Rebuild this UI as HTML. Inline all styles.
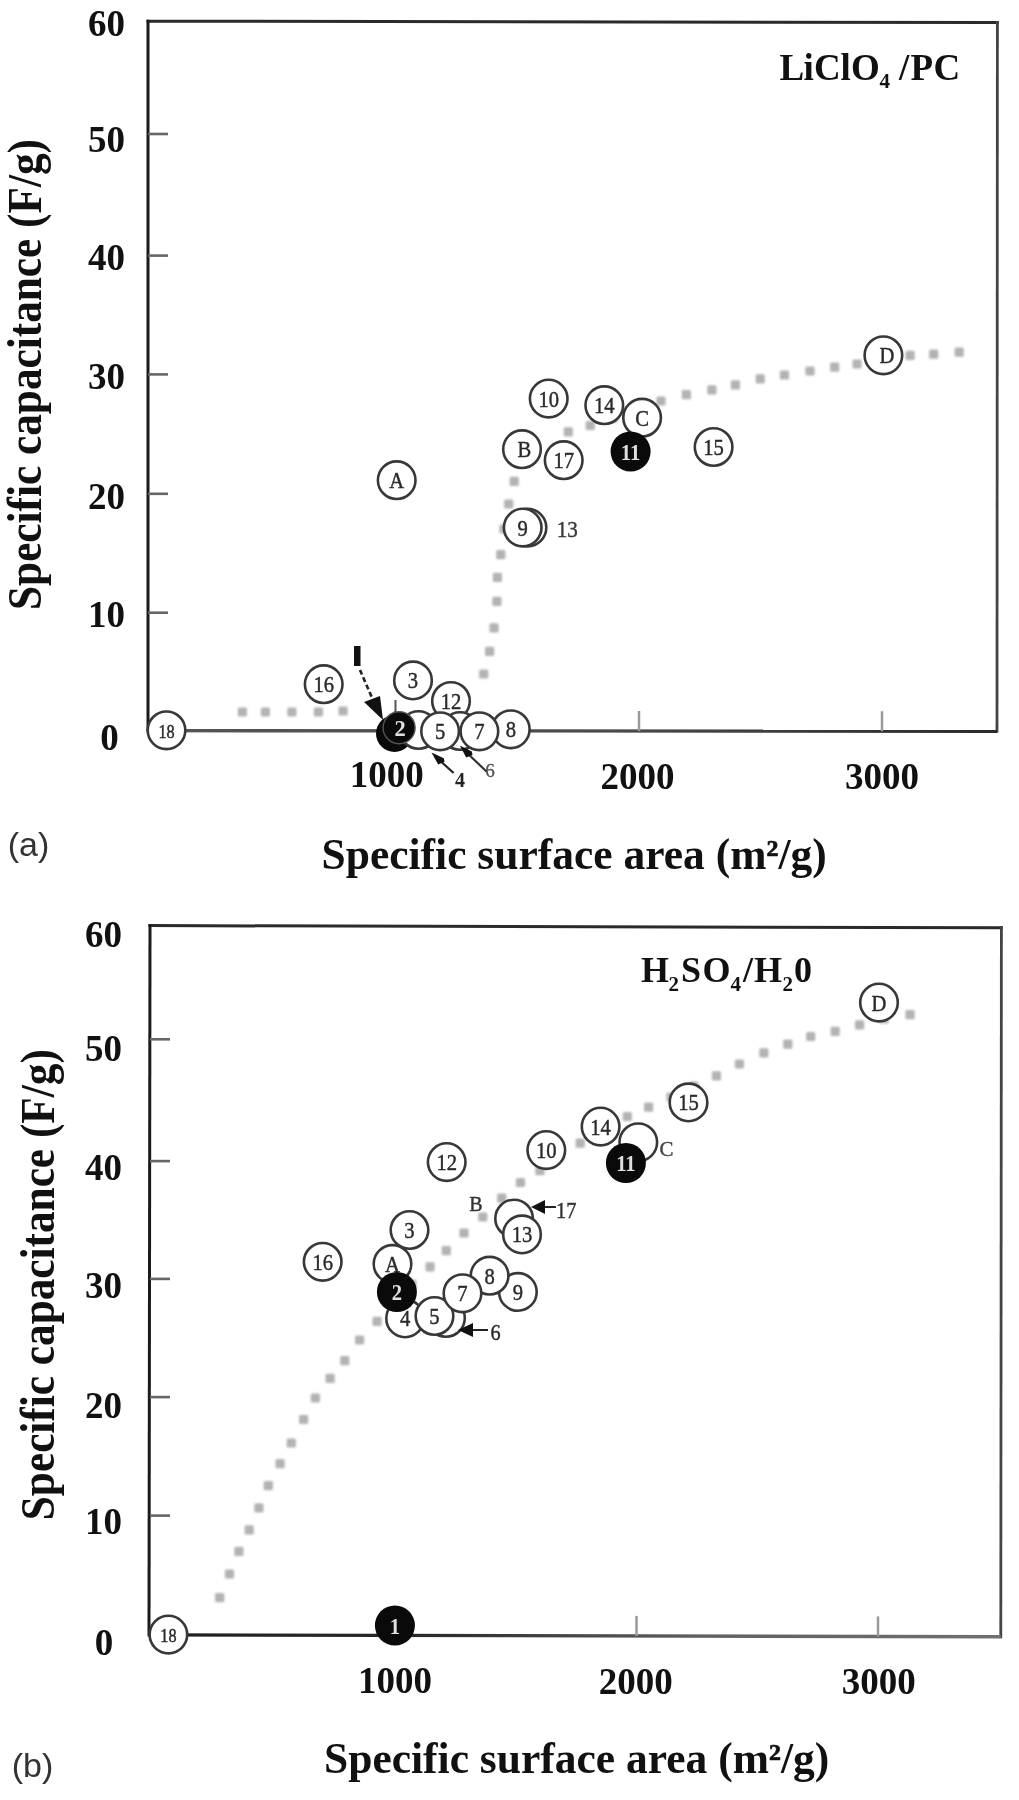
<!DOCTYPE html><html><head><meta charset="utf-8"><style>html,body{margin:0;padding:0;background:#fff;width:1019px;height:1800px;overflow:hidden}svg{display:block;filter:blur(0.6px)}</style></head><body>
<svg width="1019" height="1800" viewBox="0 0 1019 1800">
<rect width="1019" height="1800" fill="#fff"/>
<defs><filter id="dblur" x="-5%" y="-5%" width="110%" height="110%"><feGaussianBlur stdDeviation="1.2"/></filter><linearGradient id="ga" gradientUnits="userSpaceOnUse" x1="148" y1="0" x2="997" y2="0"><stop offset="0" stop-color="#555"/><stop offset="0.55" stop-color="#4a4a4a"/><stop offset="1" stop-color="#2a2a2a"/></linearGradient><linearGradient id="gb" gradientUnits="userSpaceOnUse" x1="149" y1="0" x2="1001" y2="0"><stop offset="0" stop-color="#1e1e1e"/><stop offset="0.32" stop-color="#2a2a2a"/><stop offset="0.65" stop-color="#606060"/><stop offset="1" stop-color="#707070"/></linearGradient></defs>
<line x1="146.5" y1="21.2" x2="998.8" y2="22.5" stroke="#2a2a2a" stroke-width="3"/>
<line x1="148" y1="19.7" x2="148" y2="732.1" stroke="#1a1a1a" stroke-width="3"/>
<line x1="997.4" y1="21.0" x2="997" y2="732.8" stroke="#444" stroke-width="2.8"/>
<line x1="148" y1="730.6" x2="997" y2="731.3" stroke="url(#ga)" stroke-width="3.4"/>
<line x1="148" y1="134" x2="168" y2="134" stroke="#666" stroke-width="2.6"/>
<line x1="148" y1="255.6" x2="168" y2="255.6" stroke="#666" stroke-width="2.6"/>
<line x1="148" y1="374.4" x2="168" y2="374.4" stroke="#666" stroke-width="2.6"/>
<line x1="148" y1="493.8" x2="168" y2="493.8" stroke="#666" stroke-width="2.6"/>
<line x1="148" y1="612.7" x2="168" y2="612.7" stroke="#666" stroke-width="2.6"/>
<line x1="394.8" y1="730.8" x2="394.8" y2="710.8" stroke="#9a9a9a" stroke-width="2.5"/>
<line x1="639" y1="731.0" x2="639" y2="711.0" stroke="#9a9a9a" stroke-width="2.5"/>
<line x1="882" y1="731.2" x2="882" y2="711.2" stroke="#9a9a9a" stroke-width="2.5"/>
<text x="125" y="35.5" font-size="37" text-anchor="end" font-family='"Liberation Serif", serif' font-weight="bold" fill="#111" >60</text>
<text x="125" y="152" font-size="37" text-anchor="end" font-family='"Liberation Serif", serif' font-weight="bold" fill="#111" >50</text>
<text x="125" y="270" font-size="37" text-anchor="end" font-family='"Liberation Serif", serif' font-weight="bold" fill="#111" >40</text>
<text x="125" y="389" font-size="37" text-anchor="end" font-family='"Liberation Serif", serif' font-weight="bold" fill="#111" >30</text>
<text x="125" y="509" font-size="37" text-anchor="end" font-family='"Liberation Serif", serif' font-weight="bold" fill="#111" >20</text>
<text x="125" y="627" font-size="37" text-anchor="end" font-family='"Liberation Serif", serif' font-weight="bold" fill="#111" >10</text>
<text x="109.5" y="749.5" font-size="37" text-anchor="middle" font-family='"Liberation Serif", serif' font-weight="bold" fill="#111" >0</text>
<text x="386.7" y="787" font-size="37" text-anchor="middle" font-family='"Liberation Serif", serif' font-weight="bold" fill="#111" >1000</text>
<text x="637.5" y="789" font-size="37" text-anchor="middle" font-family='"Liberation Serif", serif' font-weight="bold" fill="#111" >2000</text>
<text x="882" y="789" font-size="37" text-anchor="middle" font-family='"Liberation Serif", serif' font-weight="bold" fill="#111" >3000</text>
<text x="779.5" y="79.5" font-family='"Liberation Serif", serif' font-weight="bold" font-size="37" fill="#111">L</text>
<text x="803.5" y="79.5" font-family='"Liberation Serif", serif' font-weight="bold" font-size="37" fill="#111">i</text>
<text x="814" y="79.5" font-family='"Liberation Serif", serif' font-weight="bold" font-size="37" fill="#111">C</text>
<text x="840.5" y="79.5" font-family='"Liberation Serif", serif' font-weight="bold" font-size="37" fill="#111">l</text>
<text x="851" y="79.5" font-family='"Liberation Serif", serif' font-weight="bold" font-size="37" fill="#111">O</text>
<text x="879.5" y="88" font-family='"Liberation Serif", serif' font-weight="bold" font-size="21" fill="#111">4</text>
<text x="899" y="79.5" font-family='"Liberation Serif", serif' font-weight="bold" font-size="37" fill="#111">/</text>
<text x="910.5" y="79.5" font-family='"Liberation Serif", serif' font-weight="bold" font-size="37" fill="#111">P</text>
<text x="933.5" y="79.5" font-family='"Liberation Serif", serif' font-weight="bold" font-size="37" fill="#111">C</text>
<text x="7.8" y="855.5" font-family='"Liberation Sans", sans-serif' font-size="34" fill="#333">(a)</text>
<text x="321.5" y="869" font-family='"Liberation Serif", serif' font-weight="bold" font-size="43.5" fill="#111">Specific surface area (m<tspan font-size="23.9" dy="-13.5" font-weight="bold" stroke="#111" stroke-width="0.7">2</tspan><tspan dy="13.5">/g)</tspan></text>
<text transform="translate(40.5,610) rotate(-90) scale(1,1.12)" x="0" y="0" textLength="471" lengthAdjust="spacingAndGlyphs" font-family='"Liberation Serif", serif' font-weight="bold" font-size="43" fill="#111">Specific capacitance (F/g)</text>
<g filter="url(#dblur)">
<rect x="237.8" y="707.4" width="9.2" height="9.2" rx="1.5" fill="#b3b3b3"/>
<rect x="260.8" y="707.4" width="9.2" height="9.2" rx="1.5" fill="#b3b3b3"/>
<rect x="287.3" y="707.4" width="9.2" height="9.2" rx="1.5" fill="#b3b3b3"/>
<rect x="313.8" y="707.4" width="9.2" height="9.2" rx="1.5" fill="#b3b3b3"/>
<rect x="338.5" y="706.4" width="9.2" height="9.2" rx="1.5" fill="#b3b3b3"/>
<rect x="435.4" y="698.4" width="9.2" height="9.2" rx="1.5" fill="#b3b3b3"/>
<rect x="457.4" y="689.4" width="9.2" height="9.2" rx="1.5" fill="#b3b3b3"/>
<rect x="479.1" y="669.4" width="9.2" height="9.2" rx="1.5" fill="#b3b3b3"/>
<rect x="485.0" y="646.8" width="9.2" height="9.2" rx="1.5" fill="#b3b3b3"/>
<rect x="489.4" y="623.2" width="9.2" height="9.2" rx="1.5" fill="#b3b3b3"/>
<rect x="492.3" y="596.7" width="9.2" height="9.2" rx="1.5" fill="#b3b3b3"/>
<rect x="492.8" y="572.7" width="9.2" height="9.2" rx="1.5" fill="#b3b3b3"/>
<rect x="496.2" y="550.1" width="9.2" height="9.2" rx="1.5" fill="#b3b3b3"/>
<rect x="499.4" y="524.4" width="9.2" height="9.2" rx="1.5" fill="#b3b3b3"/>
<rect x="504.1" y="499.4" width="9.2" height="9.2" rx="1.5" fill="#b3b3b3"/>
<rect x="509.6" y="476.7" width="9.2" height="9.2" rx="1.5" fill="#b3b3b3"/>
<rect x="520.4" y="453.4" width="9.2" height="9.2" rx="1.5" fill="#b3b3b3"/>
<rect x="563.7" y="427.2" width="9.2" height="9.2" rx="1.5" fill="#b3b3b3"/>
<rect x="585.7" y="420.9" width="9.2" height="9.2" rx="1.5" fill="#b3b3b3"/>
<rect x="608.4" y="413.4" width="9.2" height="9.2" rx="1.5" fill="#b3b3b3"/>
<rect x="632.4" y="405.4" width="9.2" height="9.2" rx="1.5" fill="#b3b3b3"/>
<rect x="656.4" y="396.4" width="9.2" height="9.2" rx="1.5" fill="#b3b3b3"/>
<rect x="681.8" y="390.0" width="9.2" height="9.2" rx="1.5" fill="#b3b3b3"/>
<rect x="707.3" y="385.3" width="9.2" height="9.2" rx="1.5" fill="#b3b3b3"/>
<rect x="730.8" y="380.2" width="9.2" height="9.2" rx="1.5" fill="#b3b3b3"/>
<rect x="755.6" y="374.3" width="9.2" height="9.2" rx="1.5" fill="#b3b3b3"/>
<rect x="779.9" y="370.4" width="9.2" height="9.2" rx="1.5" fill="#b3b3b3"/>
<rect x="805.4" y="366.4" width="9.2" height="9.2" rx="1.5" fill="#b3b3b3"/>
<rect x="830.1" y="362.5" width="9.2" height="9.2" rx="1.5" fill="#b3b3b3"/>
<rect x="852.5" y="359.4" width="9.2" height="9.2" rx="1.5" fill="#b3b3b3"/>
<rect x="879.4" y="353.4" width="9.2" height="9.2" rx="1.5" fill="#b3b3b3"/>
<rect x="905.5" y="350.7" width="9.2" height="9.2" rx="1.5" fill="#b3b3b3"/>
<rect x="929.1" y="349.6" width="9.2" height="9.2" rx="1.5" fill="#b3b3b3"/>
<rect x="954.6" y="347.6" width="9.2" height="9.2" rx="1.5" fill="#b3b3b3"/>
</g>
<line x1="395.5" y1="700" x2="395.5" y2="714" stroke="#555" stroke-width="2"/>
<line x1="360" y1="670" x2="373" y2="700" stroke="#222" stroke-width="2.6" stroke-dasharray="5 3"/>
<polygon points="364,702 380,696 383,720" fill="#111"/>
<rect x="354" y="646" width="6.5" height="20" fill="#111"/>
<circle cx="166.5" cy="730.3" r="18.8" fill="#fff" stroke="#383838" stroke-width="2.6"/>
<text transform="translate(166.5,737.5) scale(0.9,1)" x="0" y="0" font-size="18" fill="#2a2a2a" stroke="#2a2a2a" stroke-width="0.45" text-anchor="middle" font-family='"Liberation Serif", serif'>18</text>
<circle cx="323.7" cy="684.2" r="18.8" fill="#fff" stroke="#383838" stroke-width="2.6"/>
<text transform="translate(323.7,692.2) scale(0.86,1)" x="0" y="0" font-size="24" fill="#2a2a2a" stroke="#2a2a2a" stroke-width="0.45" text-anchor="middle" font-family='"Liberation Serif", serif'>16</text>
<circle cx="413.0" cy="680.4" r="18.8" fill="#fff" stroke="#383838" stroke-width="2.6"/>
<text transform="translate(413.0,688.4) scale(0.86,1)" x="0" y="0" font-size="24" fill="#2a2a2a" stroke="#2a2a2a" stroke-width="0.45" text-anchor="middle" font-family='"Liberation Serif", serif'>3</text>
<circle cx="451.0" cy="701.0" r="18.8" fill="#fff" stroke="#383838" stroke-width="2.6"/>
<text transform="translate(451.0,709.0) scale(0.86,1)" x="0" y="0" font-size="24" fill="#2a2a2a" stroke="#2a2a2a" stroke-width="0.45" text-anchor="middle" font-family='"Liberation Serif", serif'>12</text>
<circle cx="394.5" cy="733.5" r="18.5" fill="#0a0a0a"/>
<circle cx="418.5" cy="730.0" r="18.8" fill="#fff" stroke="#383838" stroke-width="2.6"/>
<circle cx="460.0" cy="731.0" r="18.8" fill="#fff" stroke="#383838" stroke-width="2.6"/>
<circle cx="510.8" cy="729.3" r="18.8" fill="#fff" stroke="#383838" stroke-width="2.6"/>
<text transform="translate(510.8,737.3) scale(0.86,1)" x="0" y="0" font-size="24" fill="#2a2a2a" stroke="#2a2a2a" stroke-width="0.45" text-anchor="middle" font-family='"Liberation Serif", serif'>8</text>
<circle cx="479.4" cy="731.3" r="18.8" fill="#fff" stroke="#383838" stroke-width="2.6"/>
<text transform="translate(479.4,739.3) scale(0.86,1)" x="0" y="0" font-size="24" fill="#2a2a2a" stroke="#2a2a2a" stroke-width="0.45" text-anchor="middle" font-family='"Liberation Serif", serif'>7</text>
<circle cx="440.1" cy="731.3" r="18.8" fill="#fff" stroke="#383838" stroke-width="2.6"/>
<text transform="translate(440.1,739.3) scale(0.86,1)" x="0" y="0" font-size="24" fill="#2a2a2a" stroke="#2a2a2a" stroke-width="0.45" text-anchor="middle" font-family='"Liberation Serif", serif'>5</text>
<circle cx="399.1" cy="727.8" r="16" fill="#0a0a0a" stroke="#555" stroke-width="1.4"/>
<text x="400" y="735.5" font-size="22.5" fill="#e0e0e0" text-anchor="middle" font-family='"Liberation Serif", serif' font-weight="bold">2</text>
<line x1="436" y1="757" x2="453.6" y2="773" stroke="#222" stroke-width="2.2"/>
<polygon points="431.5,752.5 438.2,764.5 444.5,761.8 443.8,758.2" fill="#111"/>
<text x="460" y="786.5" font-family='"Liberation Serif", serif' font-size="20" font-weight="bold" fill="#222" text-anchor="middle">4</text>
<line x1="464" y1="750" x2="487" y2="772" stroke="#333" stroke-width="2.2"/>
<polygon points="459.8,745.6 466.2,757.6 472.5,755 471.8,751.5" fill="#111"/>
<text x="490" y="776.5" font-family='"Liberation Serif", serif' font-size="19" fill="#555" stroke="#555" stroke-width="0.4" text-anchor="middle">6</text>
<circle cx="396.7" cy="480.2" r="18.8" fill="#fff" stroke="#383838" stroke-width="2.6"/>
<text transform="translate(396.7,488.2) scale(0.86,1)" x="0" y="0" font-size="24" fill="#2a2a2a" stroke="#2a2a2a" stroke-width="0.45" text-anchor="middle" font-family='"Liberation Serif", serif'>A</text>
<circle cx="527.5" cy="527.6" r="18.8" fill="#fff" stroke="#383838" stroke-width="2.6"/>
<circle cx="522.7" cy="527.6" r="18.8" fill="#fff" stroke="#383838" stroke-width="2.6"/>
<text transform="translate(522.7,535.6) scale(0.86,1)" x="0" y="0" font-size="24" fill="#2a2a2a" stroke="#2a2a2a" stroke-width="0.45" text-anchor="middle" font-family='"Liberation Serif", serif'>9</text>
<text transform="translate(567.2,536.5) scale(0.88,1)" x="0" y="0" font-family='"Liberation Serif", serif' font-size="24" fill="#3a3a3a" stroke="#3a3a3a" stroke-width="0.45" text-anchor="middle">13</text>
<circle cx="522.0" cy="449.2" r="18.8" fill="#fff" stroke="#383838" stroke-width="2.6"/>
<text transform="translate(524.5,457.2) scale(0.86,1)" x="0" y="0" font-size="24" fill="#2a2a2a" stroke="#2a2a2a" stroke-width="0.45" text-anchor="middle" font-family='"Liberation Serif", serif'>B</text>
<circle cx="563.7" cy="460.2" r="18.8" fill="#fff" stroke="#383838" stroke-width="2.6"/>
<text transform="translate(563.7,468.2) scale(0.86,1)" x="0" y="0" font-size="24" fill="#2a2a2a" stroke="#2a2a2a" stroke-width="0.45" text-anchor="middle" font-family='"Liberation Serif", serif'>17</text>
<circle cx="548.7" cy="398.6" r="18.8" fill="#fff" stroke="#383838" stroke-width="2.6"/>
<text transform="translate(548.7,406.6) scale(0.86,1)" x="0" y="0" font-size="24" fill="#2a2a2a" stroke="#2a2a2a" stroke-width="0.45" text-anchor="middle" font-family='"Liberation Serif", serif'>10</text>
<circle cx="604.3" cy="405.2" r="18.8" fill="#fff" stroke="#383838" stroke-width="2.6"/>
<text transform="translate(604.3,413.2) scale(0.86,1)" x="0" y="0" font-size="24" fill="#2a2a2a" stroke="#2a2a2a" stroke-width="0.45" text-anchor="middle" font-family='"Liberation Serif", serif'>14</text>
<circle cx="642.1" cy="417.7" r="18.8" fill="#fff" stroke="#383838" stroke-width="2.6"/>
<text transform="translate(642.1,425.7) scale(0.86,1)" x="0" y="0" font-size="24" fill="#2a2a2a" stroke="#2a2a2a" stroke-width="0.45" text-anchor="middle" font-family='"Liberation Serif", serif'>C</text>
<circle cx="630.6" cy="451.5" r="20.0" fill="#0a0a0a"/>
<text transform="translate(630.6,459.5) scale(0.86,1)" x="0" y="0" font-size="24" fill="#e0e0e0" text-anchor="middle" font-family='"Liberation Serif", serif' font-weight="bold">11</text>
<circle cx="713.6" cy="447.0" r="18.8" fill="#fff" stroke="#383838" stroke-width="2.6"/>
<text transform="translate(713.6,455.0) scale(0.86,1)" x="0" y="0" font-size="24" fill="#2a2a2a" stroke="#2a2a2a" stroke-width="0.45" text-anchor="middle" font-family='"Liberation Serif", serif'>15</text>
<circle cx="883.4" cy="355.3" r="18.8" fill="#fff" stroke="#383838" stroke-width="2.6"/>
<text transform="translate(886.9,363.3) scale(0.86,1)" x="0" y="0" font-size="24" fill="#2a2a2a" stroke="#2a2a2a" stroke-width="0.45" text-anchor="middle" font-family='"Liberation Serif", serif'>D</text>
<line x1="148.5" y1="925.6" x2="1002.8" y2="927.8" stroke="#2a2a2a" stroke-width="3"/>
<line x1="150" y1="924.1" x2="149" y2="1636.4" stroke="#1a1a1a" stroke-width="3"/>
<line x1="1001.4" y1="926.3" x2="1000.8" y2="1638.2" stroke="#444" stroke-width="2.8"/>
<line x1="149" y1="1634.9" x2="1000.8" y2="1636.7" stroke="url(#gb)" stroke-width="3.4"/>
<line x1="150" y1="1039.3" x2="170" y2="1039.3" stroke="#666" stroke-width="2.6"/>
<line x1="150" y1="1161.1" x2="170" y2="1161.1" stroke="#666" stroke-width="2.6"/>
<line x1="150" y1="1278.9" x2="170" y2="1278.9" stroke="#666" stroke-width="2.6"/>
<line x1="150" y1="1397.1" x2="170" y2="1397.1" stroke="#666" stroke-width="2.6"/>
<line x1="150" y1="1515.6" x2="170" y2="1515.6" stroke="#666" stroke-width="2.6"/>
<line x1="395" y1="1635.4" x2="395" y2="1615.4" stroke="#9a9a9a" stroke-width="2.5"/>
<line x1="636.5" y1="1635.9" x2="636.5" y2="1615.9" stroke="#9a9a9a" stroke-width="2.5"/>
<line x1="878" y1="1636.4" x2="878" y2="1616.4" stroke="#9a9a9a" stroke-width="2.5"/>
<text x="122" y="946.5" font-size="37" text-anchor="end" font-family='"Liberation Serif", serif' font-weight="bold" fill="#111" >60</text>
<text x="122" y="1061" font-size="37" text-anchor="end" font-family='"Liberation Serif", serif' font-weight="bold" fill="#111" >50</text>
<text x="122" y="1180" font-size="37" text-anchor="end" font-family='"Liberation Serif", serif' font-weight="bold" fill="#111" >40</text>
<text x="122" y="1298" font-size="37" text-anchor="end" font-family='"Liberation Serif", serif' font-weight="bold" fill="#111" >30</text>
<text x="122" y="1417.5" font-size="37" text-anchor="end" font-family='"Liberation Serif", serif' font-weight="bold" fill="#111" >20</text>
<text x="122" y="1533.5" font-size="37" text-anchor="end" font-family='"Liberation Serif", serif' font-weight="bold" fill="#111" >10</text>
<text x="104" y="1655" font-size="37" text-anchor="middle" font-family='"Liberation Serif", serif' font-weight="bold" fill="#111" >0</text>
<text x="395" y="1693" font-size="37" text-anchor="middle" font-family='"Liberation Serif", serif' font-weight="bold" fill="#111" >1000</text>
<text x="635.8" y="1694" font-size="37" text-anchor="middle" font-family='"Liberation Serif", serif' font-weight="bold" fill="#111" >2000</text>
<text x="878.8" y="1694" font-size="37" text-anchor="middle" font-family='"Liberation Serif", serif' font-weight="bold" fill="#111" >3000</text>
<text x="641" y="982" font-family='"Liberation Serif", serif' font-weight="bold" font-size="36" fill="#111">H</text>
<text x="668.5" y="990.5" font-family='"Liberation Serif", serif' font-weight="bold" font-size="21" fill="#111">2</text>
<text x="681" y="982" font-family='"Liberation Serif", serif' font-weight="bold" font-size="36" fill="#111">S</text>
<text x="702.5" y="982" font-family='"Liberation Serif", serif' font-weight="bold" font-size="36" fill="#111">O</text>
<text x="730.5" y="990.5" font-family='"Liberation Serif", serif' font-weight="bold" font-size="21" fill="#111">4</text>
<text x="743" y="982" font-family='"Liberation Serif", serif' font-weight="bold" font-size="36" fill="#111">/</text>
<text x="754" y="982" font-family='"Liberation Serif", serif' font-weight="bold" font-size="36" fill="#111">H</text>
<text x="782.5" y="990.5" font-family='"Liberation Serif", serif' font-weight="bold" font-size="21" fill="#111">2</text>
<text x="794" y="982" font-family='"Liberation Serif", serif' font-weight="bold" font-size="36" fill="#111">0</text>
<text x="11.8" y="1776.5" font-family='"Liberation Sans", sans-serif' font-size="34" fill="#333">(b)</text>
<text x="324" y="1773" font-family='"Liberation Serif", serif' font-weight="bold" font-size="43.5" fill="#111">Specific surface area (m<tspan font-size="23.9" dy="-13.5" font-weight="bold" stroke="#111" stroke-width="0.7">2</tspan><tspan dy="13.5">/g)</tspan></text>
<text transform="translate(53.5,1520.2) rotate(-90) scale(1,1.12)" x="0" y="0" textLength="471" lengthAdjust="spacingAndGlyphs" font-family='"Liberation Serif", serif' font-weight="bold" font-size="43" fill="#111">Specific capacitance (F/g)</text>
<g filter="url(#dblur)">
<rect x="215.1" y="1593.0" width="9.2" height="9.2" rx="1.5" fill="#b3b3b3"/>
<rect x="224.9" y="1569.4" width="9.2" height="9.2" rx="1.5" fill="#b3b3b3"/>
<rect x="234.3" y="1546.8" width="9.2" height="9.2" rx="1.5" fill="#b3b3b3"/>
<rect x="244.6" y="1525.3" width="9.2" height="9.2" rx="1.5" fill="#b3b3b3"/>
<rect x="254.3" y="1503.2" width="9.2" height="9.2" rx="1.5" fill="#b3b3b3"/>
<rect x="263.7" y="1481.1" width="9.2" height="9.2" rx="1.5" fill="#b3b3b3"/>
<rect x="275.5" y="1459.0" width="9.2" height="9.2" rx="1.5" fill="#b3b3b3"/>
<rect x="286.7" y="1438.4" width="9.2" height="9.2" rx="1.5" fill="#b3b3b3"/>
<rect x="299.0" y="1414.9" width="9.2" height="9.2" rx="1.5" fill="#b3b3b3"/>
<rect x="310.8" y="1393.4" width="9.2" height="9.2" rx="1.5" fill="#b3b3b3"/>
<rect x="325.5" y="1373.7" width="9.2" height="9.2" rx="1.5" fill="#b3b3b3"/>
<rect x="340.2" y="1356.0" width="9.2" height="9.2" rx="1.5" fill="#b3b3b3"/>
<rect x="355.0" y="1335.4" width="9.2" height="9.2" rx="1.5" fill="#b3b3b3"/>
<rect x="372.5" y="1316.7" width="9.2" height="9.2" rx="1.5" fill="#b3b3b3"/>
<rect x="389.4" y="1297.4" width="9.2" height="9.2" rx="1.5" fill="#b3b3b3"/>
<rect x="407.4" y="1279.4" width="9.2" height="9.2" rx="1.5" fill="#b3b3b3"/>
<rect x="425.5" y="1262.2" width="9.2" height="9.2" rx="1.5" fill="#b3b3b3"/>
<rect x="441.7" y="1246.1" width="9.2" height="9.2" rx="1.5" fill="#b3b3b3"/>
<rect x="459.4" y="1228.4" width="9.2" height="9.2" rx="1.5" fill="#b3b3b3"/>
<rect x="478.2" y="1212.4" width="9.2" height="9.2" rx="1.5" fill="#b3b3b3"/>
<rect x="497.1" y="1193.6" width="9.2" height="9.2" rx="1.5" fill="#b3b3b3"/>
<rect x="515.9" y="1177.9" width="9.2" height="9.2" rx="1.5" fill="#b3b3b3"/>
<rect x="535.4" y="1166.1" width="9.2" height="9.2" rx="1.5" fill="#b3b3b3"/>
<rect x="555.4" y="1151.4" width="9.2" height="9.2" rx="1.5" fill="#b3b3b3"/>
<rect x="575.6" y="1138.6" width="9.2" height="9.2" rx="1.5" fill="#b3b3b3"/>
<rect x="599.4" y="1124.4" width="9.2" height="9.2" rx="1.5" fill="#b3b3b3"/>
<rect x="622.7" y="1111.9" width="9.2" height="9.2" rx="1.5" fill="#b3b3b3"/>
<rect x="644.0" y="1102.5" width="9.2" height="9.2" rx="1.5" fill="#b3b3b3"/>
<rect x="666.4" y="1092.4" width="9.2" height="9.2" rx="1.5" fill="#b3b3b3"/>
<rect x="689.4" y="1081.4" width="9.2" height="9.2" rx="1.5" fill="#b3b3b3"/>
<rect x="711.9" y="1071.2" width="9.2" height="9.2" rx="1.5" fill="#b3b3b3"/>
<rect x="734.8" y="1059.4" width="9.2" height="9.2" rx="1.5" fill="#b3b3b3"/>
<rect x="759.3" y="1048.2" width="9.2" height="9.2" rx="1.5" fill="#b3b3b3"/>
<rect x="783.2" y="1039.6" width="9.2" height="9.2" rx="1.5" fill="#b3b3b3"/>
<rect x="806.1" y="1031.9" width="9.2" height="9.2" rx="1.5" fill="#b3b3b3"/>
<rect x="830.6" y="1026.8" width="9.2" height="9.2" rx="1.5" fill="#b3b3b3"/>
<rect x="855.0" y="1020.2" width="9.2" height="9.2" rx="1.5" fill="#b3b3b3"/>
<rect x="879.4" y="1014.4" width="9.2" height="9.2" rx="1.5" fill="#b3b3b3"/>
<rect x="905.4" y="1010.0" width="9.2" height="9.2" rx="1.5" fill="#b3b3b3"/>
</g>
<circle cx="168.4" cy="1634.6" r="18.8" fill="#fff" stroke="#383838" stroke-width="2.6"/>
<text transform="translate(168.4,1641.8) scale(0.9,1)" x="0" y="0" font-size="18" fill="#2a2a2a" stroke="#2a2a2a" stroke-width="0.45" text-anchor="middle" font-family='"Liberation Serif", serif'>18</text>
<circle cx="394.9" cy="1625.5" r="20.0" fill="#0a0a0a"/>
<text transform="translate(394.9,1633.5) scale(0.86,1)" x="0" y="0" font-size="24" fill="#e0e0e0" text-anchor="middle" font-family='"Liberation Serif", serif' font-weight="bold">1</text>
<circle cx="322.7" cy="1261.8" r="18.8" fill="#fff" stroke="#383838" stroke-width="2.6"/>
<text transform="translate(322.7,1269.8) scale(0.86,1)" x="0" y="0" font-size="24" fill="#2a2a2a" stroke="#2a2a2a" stroke-width="0.45" text-anchor="middle" font-family='"Liberation Serif", serif'>16</text>
<circle cx="409.5" cy="1230.0" r="18.8" fill="#fff" stroke="#383838" stroke-width="2.6"/>
<text transform="translate(409.5,1238.0) scale(0.86,1)" x="0" y="0" font-size="24" fill="#2a2a2a" stroke="#2a2a2a" stroke-width="0.45" text-anchor="middle" font-family='"Liberation Serif", serif'>3</text>
<circle cx="392.5" cy="1263.9" r="18.8" fill="#fff" stroke="#383838" stroke-width="2.6"/>
<text transform="translate(392.5,1271.9) scale(0.86,1)" x="0" y="0" font-size="24" fill="#2a2a2a" stroke="#2a2a2a" stroke-width="0.45" text-anchor="middle" font-family='"Liberation Serif", serif'>A</text>
<circle cx="446.0" cy="1318.0" r="18.8" fill="#fff" stroke="#383838" stroke-width="2.6"/>
<circle cx="405.1" cy="1318.4" r="18.8" fill="#fff" stroke="#383838" stroke-width="2.6"/>
<text transform="translate(405.1,1326.4) scale(0.86,1)" x="0" y="0" font-size="24" fill="#2a2a2a" stroke="#2a2a2a" stroke-width="0.45" text-anchor="middle" font-family='"Liberation Serif", serif'>4</text>
<circle cx="434.5" cy="1316.0" r="18.8" fill="#fff" stroke="#383838" stroke-width="2.6"/>
<text transform="translate(434.5,1324.0) scale(0.86,1)" x="0" y="0" font-size="24" fill="#2a2a2a" stroke="#2a2a2a" stroke-width="0.45" text-anchor="middle" font-family='"Liberation Serif", serif'>5</text>
<circle cx="396.9" cy="1292.0" r="20.0" fill="#0a0a0a"/>
<text transform="translate(396.9,1300.0) scale(0.86,1)" x="0" y="0" font-size="24" fill="#e0e0e0" text-anchor="middle" font-family='"Liberation Serif", serif' font-weight="bold">2</text>
<circle cx="517.9" cy="1291.9" r="18.8" fill="#fff" stroke="#383838" stroke-width="2.6"/>
<text transform="translate(517.9,1299.9) scale(0.86,1)" x="0" y="0" font-size="24" fill="#2a2a2a" stroke="#2a2a2a" stroke-width="0.45" text-anchor="middle" font-family='"Liberation Serif", serif'>9</text>
<circle cx="489.6" cy="1275.7" r="18.8" fill="#fff" stroke="#383838" stroke-width="2.6"/>
<text transform="translate(489.6,1283.7) scale(0.86,1)" x="0" y="0" font-size="24" fill="#2a2a2a" stroke="#2a2a2a" stroke-width="0.45" text-anchor="middle" font-family='"Liberation Serif", serif'>8</text>
<circle cx="462.5" cy="1293.3" r="18.8" fill="#fff" stroke="#383838" stroke-width="2.6"/>
<text transform="translate(462.5,1301.3) scale(0.86,1)" x="0" y="0" font-size="24" fill="#2a2a2a" stroke="#2a2a2a" stroke-width="0.45" text-anchor="middle" font-family='"Liberation Serif", serif'>7</text>
<line x1="470" y1="1330" x2="488" y2="1330" stroke="#222" stroke-width="2"/>
<polygon points="458,1330 473,1323 473,1337" fill="#111"/>
<text transform="translate(495.6,1340) scale(0.88,1)" x="0" y="0" font-family='"Liberation Serif", serif' font-size="23" fill="#2a2a2a" stroke="#2a2a2a" stroke-width="0.45" text-anchor="middle">6</text>
<circle cx="446.7" cy="1162.1" r="18.8" fill="#fff" stroke="#383838" stroke-width="2.6"/>
<text transform="translate(446.7,1170.1) scale(0.86,1)" x="0" y="0" font-size="24" fill="#2a2a2a" stroke="#2a2a2a" stroke-width="0.45" text-anchor="middle" font-family='"Liberation Serif", serif'>12</text>
<circle cx="514.1" cy="1218.5" r="18.8" fill="#fff" stroke="#383838" stroke-width="2.6"/>
<circle cx="522.0" cy="1234.4" r="18.8" fill="#fff" stroke="#383838" stroke-width="2.6"/>
<text transform="translate(522.0,1242.4) scale(0.86,1)" x="0" y="0" font-size="24" fill="#2a2a2a" stroke="#2a2a2a" stroke-width="0.45" text-anchor="middle" font-family='"Liberation Serif", serif'>13</text>
<text transform="translate(475.8,1211) scale(0.95,1)" x="0" y="0" font-family='"Liberation Serif", serif' font-size="21" fill="#333" stroke="#333" stroke-width="0.45" text-anchor="middle">B</text>
<line x1="540" y1="1207" x2="556" y2="1207" stroke="#222" stroke-width="2"/>
<polygon points="531,1207 545,1200 545,1214" fill="#111"/>
<text transform="translate(566.2,1218) scale(0.88,1)" x="0" y="0" font-family='"Liberation Serif", serif' font-size="23" fill="#333" stroke="#333" stroke-width="0.45" text-anchor="middle">17</text>
<circle cx="546.3" cy="1150.1" r="18.8" fill="#fff" stroke="#383838" stroke-width="2.6"/>
<text transform="translate(546.3,1158.1) scale(0.86,1)" x="0" y="0" font-size="24" fill="#2a2a2a" stroke="#2a2a2a" stroke-width="0.45" text-anchor="middle" font-family='"Liberation Serif", serif'>10</text>
<circle cx="600.6" cy="1126.6" r="18.8" fill="#fff" stroke="#383838" stroke-width="2.6"/>
<text transform="translate(600.6,1134.6) scale(0.86,1)" x="0" y="0" font-size="24" fill="#2a2a2a" stroke="#2a2a2a" stroke-width="0.45" text-anchor="middle" font-family='"Liberation Serif", serif'>14</text>
<circle cx="638.3" cy="1142.3" r="18.8" fill="#fff" stroke="#383838" stroke-width="2.6"/>
<text transform="translate(666.5,1155.5) scale(0.95,1)" x="0" y="0" font-family='"Liberation Serif", serif' font-size="22" fill="#444" stroke="#444" stroke-width="0.45" text-anchor="middle">C</text>
<circle cx="625.9" cy="1163.0" r="20.0" fill="#0a0a0a"/>
<text transform="translate(625.9,1171.0) scale(0.86,1)" x="0" y="0" font-size="24" fill="#e0e0e0" text-anchor="middle" font-family='"Liberation Serif", serif' font-weight="bold">11</text>
<circle cx="688.5" cy="1102.4" r="18.8" fill="#fff" stroke="#383838" stroke-width="2.6"/>
<text transform="translate(688.5,1110.4) scale(0.86,1)" x="0" y="0" font-size="24" fill="#2a2a2a" stroke="#2a2a2a" stroke-width="0.45" text-anchor="middle" font-family='"Liberation Serif", serif'>15</text>
<circle cx="879.0" cy="1002.6" r="18.8" fill="#fff" stroke="#383838" stroke-width="2.6"/>
<text transform="translate(879.0,1010.6) scale(0.86,1)" x="0" y="0" font-size="24" fill="#2a2a2a" stroke="#2a2a2a" stroke-width="0.45" text-anchor="middle" font-family='"Liberation Serif", serif'>D</text>
</svg></body></html>
